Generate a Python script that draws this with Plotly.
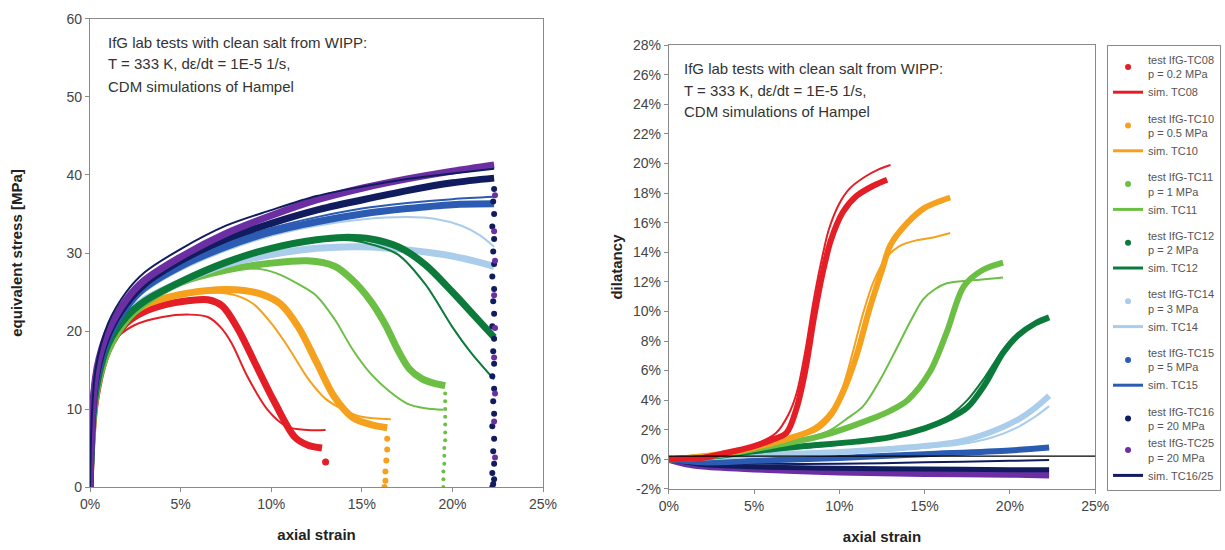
import plotly.graph_objects as go

# ================= DATA =================
# ---- left panel: equivalent stress [MPa] vs axial strain [%]
tc08_test_eps_s = [0, 0.3, 1, 2, 3, 4, 5.5, 6.5, 7.3, 8.2, 9.1, 10.2, 11.3, 12, 12.8]
tc08_test_sig = [0, 11, 17.5, 21, 22.5, 23.3, 23.9, 24, 23.2, 20.1, 15.9, 10.8, 6.4, 5.4, 5.0]
tc08_drop_eps = [13.0]
tc08_drop_sig = [3.2]
tc08_sim_eps_s = [0, 0.3, 1, 1.5, 2.5, 4, 5.5, 6.5, 7.2, 7.8, 8.7, 9.8, 10.9, 12, 13]
tc08_sim_sig = [0, 11.5, 17.5, 19.2, 20.8, 21.8, 22.1, 21.8, 20.5, 18.5, 14.1, 9.9, 7.7, 7.3, 7.3]

tc10_test_eps_s = [0, 0.3, 1, 2, 3, 5, 7, 8.5, 9.5, 10.5, 11.5, 12.5, 13.5, 14.5, 15.5, 16.4]
tc10_test_sig = [0, 11.5, 18, 21.5, 23.3, 24.7, 25.3, 25.2, 24.7, 23.5, 20.5, 16, 11.5, 8.9, 8, 7.6]
tc10_drop_eps = [16.4, 16.4, 16.35, 16.3, 16.3, 16.25]
tc10_drop_sig = [6.2, 4.8, 3.4, 2.0, 0.8, 0]
tc10_sim_eps_s = [0, 0.3, 1, 2, 3, 5, 7, 8, 9, 10, 11, 12, 13, 14, 15, 16.6]
tc10_sim_sig = [0, 12, 18.2, 21.7, 23.3, 24.5, 24.9, 24.6, 23.5, 21, 17.7, 14, 11.3, 9.9, 9, 8.7]

tc11_test_eps_s = [0, 0.3, 1, 2, 3, 5, 7.5, 10, 12, 13.5, 14.5, 15.5, 16.3, 17, 17.6, 18.3, 19, 19.6]
tc11_test_sig = [0, 11.5, 17.5, 21.3, 23.5, 26.2, 27.8, 28.7, 29, 28.3, 26.5, 23.8, 20.8, 17.5, 15.2, 13.9, 13.3, 13]
tc11_drop_eps = [19.6, 19.6, 19.6, 19.6, 19.6, 19.6, 19.6, 19.55, 19.55, 19.55, 19.5, 19.5, 19.5]
tc11_drop_sig = [12, 11, 10, 9, 8, 7, 6, 5, 4, 3, 2, 1, 0]
tc11_sim_eps_s = [0, 0.3, 1, 2, 3, 5, 7, 8.5, 9.5, 10.5, 11.5, 12.5, 13.5, 14.5, 15.5, 16.5, 17.5, 18.5, 19.5]
tc11_sim_sig = [0, 12, 18, 21.5, 23.5, 26, 27.5, 28, 27.9, 27.2, 26, 24.5, 21.5, 17.6, 14.5, 12.3, 10.7, 10.1, 9.9]

tc12_test_eps_s = [0, 0.3, 1, 2, 3, 5, 7.5, 10, 12.5, 14, 15.5, 17, 18.5, 20, 21, 22.3]
tc12_test_sig = [0, 12, 18.3, 21.8, 23.8, 26.3, 28.8, 30.6, 31.7, 32, 31.8, 30.8, 28.5, 25, 22.5, 19.2]
tc12_sim_eps_s = [0, 0.3, 1, 2, 3, 5, 7.5, 10, 12.5, 14.5, 15.7, 17, 18.5, 20, 21, 22.3]
tc12_sim_sig = [0, 12.5, 18.5, 22, 24, 26.5, 29, 30.7, 31.6, 31.6, 31, 29.8, 26, 20.5, 17.3, 13.8]

tc14_test_eps_s = [0, 0.3, 1, 2, 3, 5, 7.5, 10, 12.5, 15, 17.5, 20, 22.3]
tc14_test_sig = [0, 12.5, 18.5, 22, 24, 26.3, 28.5, 29.8, 30.6, 30.8, 30.4, 29.6, 28.3]
tc14_sim_eps_s = [0, 0.3, 1, 2, 3, 5, 7.5, 10, 12.5, 15, 17.5, 19, 20.5, 21.5, 22.3]
tc14_sim_sig = [0, 13, 19, 22.8, 25, 27.8, 30.3, 32.2, 33.5, 34.3, 34.6, 34.4, 33.5, 32.3, 30.8]

tc15_test_eps_s = [0, 0.3, 1, 2, 3, 5, 7.5, 10, 12.5, 15, 17.5, 20, 22.3]
tc15_test_sig = [0, 13, 19, 23, 25.5, 28.3, 30.8, 32.7, 34, 35, 35.7, 36.2, 36.3]
tc15_sim_eps_s = [0, 0.3, 1, 2, 3, 5, 7.5, 10, 12.5, 15, 17.5, 20, 22.3]
tc15_sim_sig = [0, 14, 20, 23.8, 26, 28.8, 31.3, 33.2, 34.6, 35.7, 36.4, 36.9, 37.2]

tc16_test_eps_s = [0, 0.3, 1, 2, 3, 5, 7.5, 10, 12.5, 15, 17.5, 20, 22.3]
tc16_test_sig = [0, 13.5, 19.5, 23.5, 26, 29, 31.8, 33.8, 35.5, 36.8, 38, 39, 39.6]
tc16_drop_eps = [22.3, 22.25, 22.3, 22.2, 22.3, 22.25, 22.3, 22.2, 22.3, 22.25, 22.3, 22.2, 22.3, 22.25,
                 22.3, 22.2, 22.3, 22.25, 22.3, 22.2, 22.3, 22.25, 22.3, 22.2, 22.3, 22.25, 22.2]
tc16_drop_sig = [38.2, 36.6, 35.0, 33.4, 31.8, 30.2, 28.6, 27.0, 25.4, 23.8, 22.2, 20.6, 19.0, 17.4,
                 15.8, 14.2, 12.6, 11.0, 9.4, 7.8, 6.2, 4.6, 3.0, 1.8, 1.0, 0.4, 0]
tc25_test_eps_s = [0, 0.1, 0.3, 0.5, 1, 2, 3, 5, 7.5, 10, 12.5, 15, 17.5, 20, 22.3]
tc25_test_sig = [0, 8, 14, 16.5, 20, 24, 26.5, 29.5, 32.5, 34.8, 36.8, 38.3, 39.5, 40.5, 41.3]
tc25_drop_eps = [22.35, 22.3, 22.35, 22.3, 22.35, 22.3, 22.35, 22.3, 22.35]
tc25_drop_sig = [37.4, 32.8, 29.0, 24.6, 20.4, 16.6, 12.0, 8.4, 3.8]
tc1625_sim_eps_s = [0, 0.3, 1, 2, 3, 5, 7.5, 10, 12.5, 15, 17.5, 20, 22.3]
tc1625_sim_sig = [0, 15, 21, 25, 27.5, 30.5, 33.5, 35.5, 37.3, 38.5, 39.5, 40.2, 40.8]

# ---- right panel: dilatancy [%] vs axial strain [%]
tc08_test_eps_d = [0, 2, 3, 4, 5, 6, 6.9, 7.5, 8, 8.5, 9, 9.5, 10.2, 11, 12, 12.8]
tc08_test_dil = [0, 0.1, 0.35, 0.6, 0.9, 1.3, 1.8, 3.5, 6, 9.5, 12.5, 14.8, 16.7, 17.8, 18.5, 18.9]
tc08_sim_eps_d = [0, 3, 5, 6.3, 7, 7.5, 8, 8.5, 9, 9.4, 10, 10.6, 11.5, 12.3, 13]
tc08_sim_dil = [0, 0.4, 1.0, 1.8, 3, 4.5, 7.3, 10.8, 13.7, 15.6, 17.3, 18.3, 19.1, 19.6, 19.9]

tc10_test_eps_d = [0, 3, 5, 7, 8.7, 9.5, 10.2, 11, 11.8, 12.5, 13, 14, 15, 16, 16.5]
tc10_test_dil = [0, 0.35, 0.8, 1.4, 2.1, 3.0, 4.5, 7, 10.3, 12.8, 14.5, 16, 17, 17.5, 17.7]
tc10_sim_eps_d = [0, 3, 5, 7, 8.5, 9.5, 10.2, 10.8, 11.4, 12, 12.8, 13.5, 14.5, 15.5, 16.5]
tc10_sim_dil = [0, 0.35, 0.8, 1.5, 2.2, 3.3, 4.9, 7.3, 9.9, 12, 13.7, 14.4, 14.8, 15, 15.3]

tc11_test_eps_d = [0, 3, 6, 9, 11.8, 13, 14, 15.3, 16.3, 17.3, 18.4, 19.6]
tc11_test_dil = [0, 0.3, 0.9, 1.6, 2.7, 3.3, 4.0, 5.9, 8.6, 11.7, 12.8, 13.3]
tc11_sim_eps_d = [0, 3, 6, 8, 9.5, 10.5, 11.4, 12.4, 13.4, 14.2, 14.9, 15.6, 16.3, 17.8, 19.6]
tc11_sim_dil = [0, 0.3, 0.9, 1.4, 2.0, 2.8, 3.6, 5.4, 7.6, 9.4, 10.8, 11.5, 11.9, 12.1, 12.3]

tc12_test_eps_d = [0, 3, 5, 8, 11, 13, 15, 16.5, 17.5, 18.5, 19.6, 20.5, 21.5, 22.3]
tc12_test_dil = [0, 0.25, 0.55, 0.9, 1.2, 1.5, 2.1, 2.8, 3.5, 5.0, 7.2, 8.4, 9.2, 9.6]
tc12_sim_eps_d = [0, 5, 10, 13, 15, 16.5, 17.5, 18.5, 19.6, 20.5, 21.5, 22.3]
tc12_sim_dil = [0, 0.5, 1.0, 1.5, 2.2, 3.0, 4.0, 5.5, 7.4, 8.5, 9.2, 9.5]

tc14_test_eps_d = [0, 5, 10, 14, 17, 19, 20.5, 21.5, 22.3]
tc14_test_dil = [0, 0.3, 0.5, 0.8, 1.2, 1.9, 2.7, 3.5, 4.3]
tc14_sim_eps_d = [0, 5, 10, 14, 17, 19, 20.5, 21.5, 22.3]
tc14_sim_dil = [0, 0.25, 0.45, 0.7, 1.0, 1.5, 2.2, 2.9, 3.6]

tc15_test_eps_d = [0, 2, 5, 10, 15, 20, 22.3]
tc15_test_dil = [0, -0.2, -0.1, 0.1, 0.35, 0.6, 0.8]
tc15_sim_eps_d = [0, 2, 5, 10, 15, 20, 22.3]
tc15_sim_dil = [0, -0.15, -0.05, 0.15, 0.4, 0.65, 0.75]

tc16_test_eps_d = [0, 2, 5, 10, 15, 20, 22.3]
tc16_test_dil = [0, -0.35, -0.5, -0.6, -0.65, -0.7, -0.7]
tc25_test_eps_d = [0, 1, 2, 5, 10, 15, 20, 22.3]
tc25_test_dil = [0, -0.3, -0.45, -0.65, -0.85, -0.95, -1.0, -1.05]
tc1625_sim_eps_d = [0, 2, 5, 10, 15, 20, 22.3]
tc1625_sim_dil = [0, -0.25, -0.3, -0.3, -0.2, -0.1, -0.05]

reference_dil = 0.22  # horizontal black line in the dilatancy plot

stress_ticks = [0, 10, 20, 30, 40, 50, 60]
strain_ticks = [0, 5, 10, 15, 20, 25]
dil_ticks = [-2, 0, 2, 4, 6, 8, 10, 12, 14, 16, 18, 20, 22, 24, 26, 28]

# ================= STYLE =================
C = {
    "tc08": "#e41e26", "tc10": "#f6a11e", "tc11": "#6cbf45", "tc12": "#0b7a3b",
    "tc14": "#a9cdeb", "tc15": "#2b5bb2", "tc16": "#101c5e", "tc25": "#6b2fa3",
}
FONT = "Liberation Sans, Arial, sans-serif"
TXT = "#333333"

fig = go.Figure()


def band(x, y, color, xa, ya, width=7):
    fig.add_trace(go.Scatter(x=x, y=y, mode="lines", xaxis=xa, yaxis=ya, showlegend=False,
                             line=dict(color=color, width=width, shape="spline", smoothing=0.9),
                             hoverinfo="skip"))


def thin(x, y, color, xa, ya, width=2):
    fig.add_trace(go.Scatter(x=x, y=y, mode="lines", xaxis=xa, yaxis=ya, showlegend=False,
                             line=dict(color=color, width=width, shape="spline", smoothing=0.9),
                             hoverinfo="skip"))


def dots(x, y, color, xa, ya, size=6):
    fig.add_trace(go.Scatter(x=x, y=y, mode="markers", xaxis=xa, yaxis=ya, showlegend=False,
                             marker=dict(color=color, size=size), hoverinfo="skip"))


# ---- left panel
band(tc08_test_eps_s, tc08_test_sig, C["tc08"], "x", "y")
dots(tc08_drop_eps, tc08_drop_sig, C["tc08"], "x", "y", 7)
thin(tc08_sim_eps_s, tc08_sim_sig, C["tc08"], "x", "y")
band(tc10_test_eps_s, tc10_test_sig, C["tc10"], "x", "y")
dots(tc10_drop_eps, tc10_drop_sig, C["tc10"], "x", "y", 6)
thin(tc10_sim_eps_s, tc10_sim_sig, C["tc10"], "x", "y")
band(tc11_test_eps_s, tc11_test_sig, C["tc11"], "x", "y")
dots(tc11_drop_eps, tc11_drop_sig, C["tc11"], "x", "y", 4)
thin(tc11_sim_eps_s, tc11_sim_sig, C["tc11"], "x", "y")
band(tc14_test_eps_s, tc14_test_sig, C["tc14"], "x", "y")
thin(tc14_sim_eps_s, tc14_sim_sig, C["tc14"], "x", "y")
band(tc12_test_eps_s, tc12_test_sig, C["tc12"], "x", "y")
thin(tc12_sim_eps_s, tc12_sim_sig, C["tc12"], "x", "y")
band(tc15_test_eps_s, tc15_test_sig, C["tc15"], "x", "y")
thin(tc15_sim_eps_s, tc15_sim_sig, C["tc15"], "x", "y")
band(tc16_test_eps_s, tc16_test_sig, C["tc16"], "x", "y")
band(tc25_test_eps_s, tc25_test_sig, C["tc25"], "x", "y")
dots(tc16_drop_eps, tc16_drop_sig, C["tc16"], "x", "y", 6)
dots(tc25_drop_eps, tc25_drop_sig, C["tc25"], "x", "y", 6)
thin(tc1625_sim_eps_s, tc1625_sim_sig, C["tc16"], "x", "y")

# ---- right panel
band(tc25_test_eps_d, tc25_test_dil, C["tc25"], "x2", "y2")
band(tc16_test_eps_d, tc16_test_dil, C["tc16"], "x2", "y2", 5)
thin(tc1625_sim_eps_d, tc1625_sim_dil, C["tc16"], "x2", "y2")
band(tc15_test_eps_d, tc15_test_dil, C["tc15"], "x2", "y2", 6)
thin(tc15_sim_eps_d, tc15_sim_dil, C["tc15"], "x2", "y2")
band(tc14_test_eps_d, tc14_test_dil, C["tc14"], "x2", "y2", 6)
thin(tc14_sim_eps_d, tc14_sim_dil, C["tc14"], "x2", "y2")
band(tc12_test_eps_d, tc12_test_dil, C["tc12"], "x2", "y2", 6)
thin(tc12_sim_eps_d, tc12_sim_dil, C["tc12"], "x2", "y2")
band(tc11_test_eps_d, tc11_test_dil, C["tc11"], "x2", "y2", 6)
thin(tc11_sim_eps_d, tc11_sim_dil, C["tc11"], "x2", "y2")
band(tc10_test_eps_d, tc10_test_dil, C["tc10"], "x2", "y2", 6)
thin(tc10_sim_eps_d, tc10_sim_dil, C["tc10"], "x2", "y2")
band(tc08_test_eps_d, tc08_test_dil, C["tc08"], "x2", "y2", 6)
thin(tc08_sim_eps_d, tc08_sim_dil, C["tc08"], "x2", "y2")

# ---- legend entries
legend_items = [
    ("g08", "test IfG-TC08<br>p = 0.2 MPa", "markers", C["tc08"]),
    ("g08", "sim. TC08", "lines", C["tc08"]),
    ("g10", "test IfG-TC10<br>p = 0.5 MPa", "markers", C["tc10"]),
    ("g10", "sim. TC10", "lines", C["tc10"]),
    ("g11", "test IfG-TC11<br>p = 1 MPa", "markers", C["tc11"]),
    ("g11", "sim. TC11", "lines", C["tc11"]),
    ("g12", "test IfG-TC12<br>p = 2 MPa", "markers", C["tc12"]),
    ("g12", "sim. TC12", "lines", C["tc12"]),
    ("g14", "test IfG-TC14<br>p = 3 MPa", "markers", C["tc14"]),
    ("g14", "sim. TC14", "lines", C["tc14"]),
    ("g15", "test IfG-TC15<br>p = 5 MPa", "markers", C["tc15"]),
    ("g15", "sim. TC15", "lines", C["tc15"]),
    ("g16", "test IfG-TC16<br>p = 20 MPa", "markers", C["tc16"]),
    ("g16", "test IfG-TC25<br>p = 20 MPa", "markers", C["tc25"]),
    ("g16", "sim. TC16/25", "lines", C["tc16"]),
]
for rank, (grp, name, mode, col) in enumerate(legend_items):
    fig.add_trace(go.Scatter(x=[None], y=[None], mode=mode, name=name, legendgroup=grp,
                             legendrank=rank + 1, xaxis="x2", yaxis="y2",
                             marker=dict(color=col, size=6), line=dict(color=col, width=3)))

# ---- reference line at ~0 dilatancy
fig.add_shape(type="line", xref="x2 domain", yref="y2", x0=0, x1=1,
              y0=reference_dil, y1=reference_dil, line=dict(color="black", width=1.3))

axis_common = dict(showgrid=False, zeroline=False, showline=True, linecolor="#8a8a8a", linewidth=1.2,
                   mirror=True, ticks="outside", ticklen=4, tickcolor="#8a8a8a", automargin=False,
                   tickfont=dict(family=FONT, size=14, color="#444444"))

fig.update_layout(
    width=1225, height=550, margin=dict(l=0, r=0, t=0, b=0, autoexpand=False),
    paper_bgcolor="white", plot_bgcolor="white",
    font=dict(family=FONT, color=TXT),
    xaxis=dict(domain=[0.0735, 0.4433], anchor="y", range=[0, 25], tickvals=strain_ticks,
               ticktext=[f"{v}%" for v in strain_ticks],
               title=dict(text="<b>axial strain</b>", font=dict(family=FONT, size=15, color="#222"), standoff=18),
               **axis_common),
    yaxis=dict(domain=[0.1145, 0.9655], anchor="x", range=[0, 60], tickvals=stress_ticks,
               title=dict(text="<b>equivalent stress [MPa]</b>", font=dict(family=FONT, size=15, color="#222"),
                          standoff=40),
               **axis_common),
    xaxis2=dict(domain=[0.546, 0.894], anchor="y2", range=[0, 25], tickvals=strain_ticks,
                ticktext=[f"{v}%" for v in strain_ticks],
                title=dict(text="<b>axial strain</b>", font=dict(family=FONT, size=15, color="#222"), standoff=18),
                **axis_common),
    yaxis2=dict(domain=[0.111, 0.918], anchor="x2", range=[-2, 28], tickvals=dil_ticks,
                ticktext=[f"{v}%" for v in dil_ticks],
                title=dict(text="<b>dilatancy</b>", font=dict(family=FONT, size=15, color="#222"), standoff=6),
                **axis_common),
    legend=dict(x=0.9037, y=0.918, xanchor="left", yanchor="top", bordercolor="#8a8a8a", borderwidth=1,
                font=dict(family=FONT, size=11, color="#555555"), tracegroupgap=8, itemwidth=30,
                bgcolor="white"),
    showlegend=True,
)

# ---- text boxes inside panels
lines = ["IfG lab tests with clean salt from WIPP:", "T = 333 K, dε/dt = 1E-5 1/s,", "CDM simulations of Hampel"]
for i, t in enumerate(lines):
    fig.add_annotation(xref="paper", yref="paper", x=106 / 1225, y=(550 - 42 - 22 * i) / 550,
                       xanchor="left", yanchor="middle", text=t, showarrow=False,
                       font=dict(family=FONT, size=15, color=TXT))
    fig.add_annotation(xref="paper", yref="paper", x=682 / 1225, y=(550 - 68 - 22 * i) / 550,
                       xanchor="left", yanchor="middle", text=t, showarrow=False,
                       font=dict(family=FONT, size=15, color=TXT))

fig.write_html("out.html", config={"displayModeBar": False},
               post_script="document.body.style.margin='0px';document.body.style.overflow='hidden';")
